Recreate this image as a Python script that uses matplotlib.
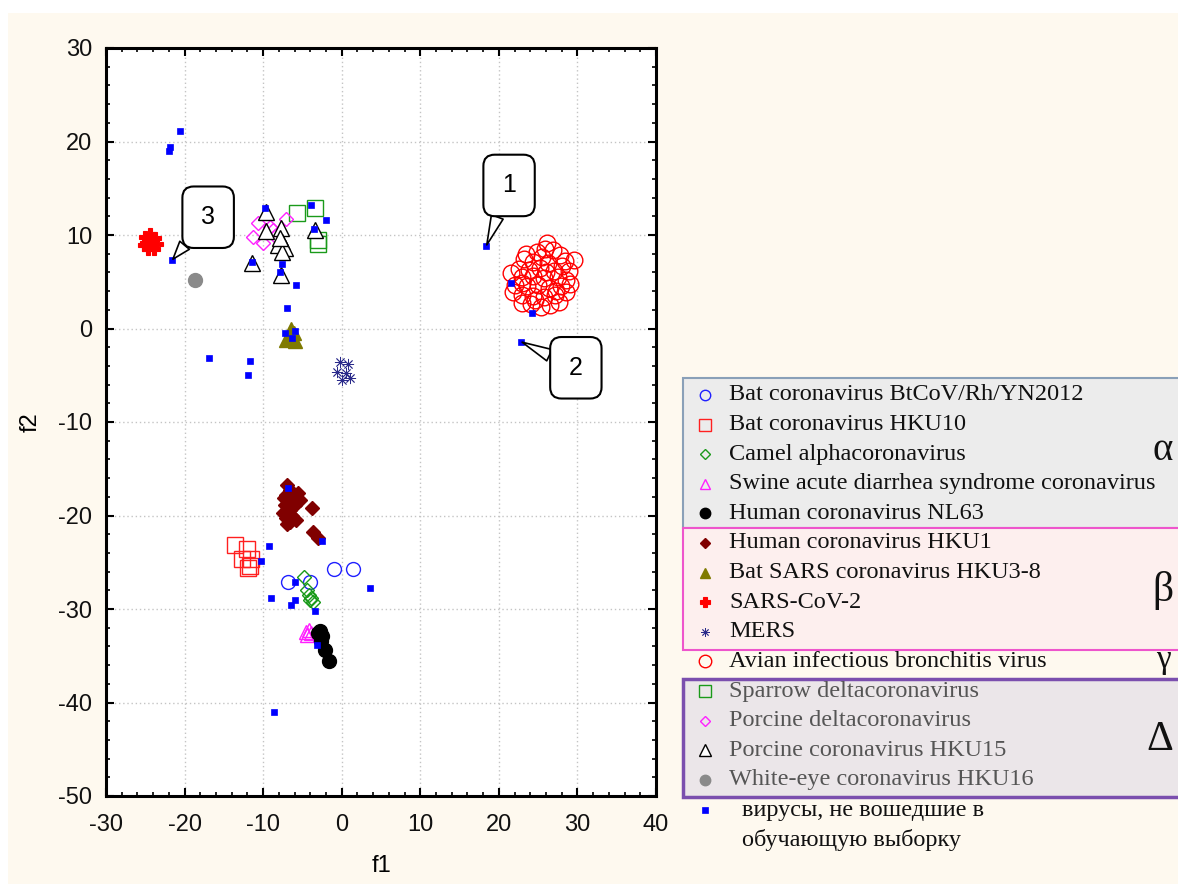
import numpy as np
import matplotlib
matplotlib.use("Agg")
import matplotlib.pyplot as plt
import matplotlib.ticker as ticker
from matplotlib.patches import Rectangle

plt.rcParams['axes.unicode_minus'] = False

# ---- data: f1 / f2 scores per group ----
bat_btcov_f1 = [-6.8, -4.0, -1.0, 1.4]
bat_btcov_f2 = [-27.1, -27.1, -25.7, -25.7]

bat_hku10_f1 = [-13.6, -12.1, -12.7, -11.6, -11.7, -11.9]
bat_hku10_f2 = [-23.2, -23.6, -24.7, -24.7, -25.4, -25.6]

camel_f1 = [-4.8, -4.2, -3.9, -3.7, -4.4, -4.0]
camel_f2 = [-26.6, -28.5, -28.8, -29.3, -28.0, -29.0]

sadscov_f1 = [-4.6, -4.2, -3.9, -4.4]
sadscov_f2 = [-32.5, -32.2, -32.6, -32.8]

nl63_f1 = [-3.0, -2.8, -2.5, -2.6, -2.1, -1.6]
nl63_f2 = [-32.6, -32.4, -32.9, -33.4, -34.4, -35.6]

hku1_f1 = [-7.0, -6.6, -7.1, -5.6, -5.3, -5.9, -3.8, -7.2, -6.6, -7.5,
           -7.1, -6.3, -6.6, -7.0, -5.8, -3.7, -3.0, -6.2, -7.4]
hku1_f2 = [-16.7, -17.3, -17.8, -17.6, -18.3, -18.9, -19.2, -18.9, -19.4, -19.7,
           -20.3, -20.0, -20.7, -20.9, -20.5, -21.8, -22.4, -18.3, -18.1]

hku3_f1 = [-6.4, -6.1, -7.1, -5.9, -6.7, -6.3]
hku3_f2 = [0.0, -0.5, -1.2, -1.3, -0.8, -1.1]

sars2_f1 = [-25.0, -24.4, -23.8, -24.9, -24.1, -23.5, -24.7, -23.9, -25.2, -24.3]
sars2_f2 = [9.8, 10.1, 9.7, 9.1, 9.0, 9.0, 8.5, 8.5, 8.9, 9.5]

mers_f1 = [-0.2, 0.8, -0.6, 0.6, 0.0, 1.0]
mers_f2 = [-3.6, -3.8, -4.6, -4.8, -5.5, -5.3]

ibv_f1 = [26.1, 24.8, 26.9, 25.5, 27.8, 29.5, 23.2, 24.3, 26.3, 28.4, 22.6, 23.8,
          25.2, 27.0, 28.9, 21.6, 22.9, 24.4, 25.8, 27.5, 28.6, 22.1, 23.6, 25.0,
          26.4, 27.9, 29.1, 21.8, 23.0, 24.4, 25.7, 27.1, 28.6, 22.9, 24.1, 25.3,
          26.5, 27.7, 23.5, 25.9, 24.6, 26.0, 27.3, 23.0, 28.0]
ibv_f2 = [9.1, 8.2, 8.4, 7.6, 7.9, 7.3, 7.4, 7.1, 7.0, 7.2, 6.4, 6.3,
          6.5, 6.2, 6.1, 5.9, 5.5, 5.6, 5.4, 5.5, 5.2, 4.7, 4.5, 4.6,
          4.3, 4.5, 4.8, 3.9, 3.6, 3.5, 3.4, 3.6, 3.9, 2.7, 2.6, 2.3,
          2.5, 2.8, 8.0, 8.5, 3.0, 6.0, 4.0, 4.9, 6.7]

sparrow_f1 = [-5.7, -3.4, -3.0, -3.0]
sparrow_f2 = [12.3, 12.9, 9.5, 9.0]

porcine_delta_f1 = [-10.6, -11.3, -10.0, -8.8, -7.1, -9.1, -8.5]
porcine_delta_f2 = [11.3, 9.8, 9.1, 10.5, 11.7, 10.9, 9.9]

hku15_f1 = [-9.6, -9.6, -7.7, -7.6, -8.1, -7.2, -7.6, -3.4, -11.4, -7.7, -7.8]
hku15_f2 = [12.5, 10.4, 10.8, 9.3, 8.9, 8.6, 8.2, 10.5, 7.0, 5.7, 9.7]

hku16_f1 = [-18.7]
hku16_f2 = [5.2]

# viruses left out of the training set
test_f1 = [-20.6, -21.9, -22.0, -21.6, -16.9, -11.7, -11.9, -11.4, -9.8, -7.6,
           -7.9, -5.8, -7.0, -7.2, -5.9, -6.3, -3.9, -2.0, -3.5, 18.4,
           22.8, 21.5, 24.2, -6.8, -2.5, -9.3, -10.3, -5.9, -9.0, -5.9,
           -6.5, -3.4, 3.6, -3.1, -8.6]
test_f2 = [21.1, 19.4, 19.0, 7.3, -3.2, -3.5, -5.0, 7.1, 12.9, 6.9,
           6.0, 4.7, 2.2, -0.5, -0.3, -1.0, 13.2, 11.6, 10.6, 8.8,
           -1.4, 4.9, 1.7, -17.1, -22.7, -23.3, -24.9, -27.1, -28.8, -29.0,
           -29.6, -30.2, -27.8, -33.9, -41.0]

callout_labels = ["1", "2", "3"]
callout_f1 = [18.4, 22.8, -21.6]
callout_f2 = [8.8, -1.4, 7.3]

# ---- marker styles ----
series = [
    ("Bat coronavirus BtCoV/Rh/YN2012", bat_btcov_f1, bat_btcov_f2,
     dict(marker='o', ms=10, mfc='none', mec='#2020ff', mew=1.0)),
    ("Bat coronavirus HKU10", bat_hku10_f1, bat_hku10_f2,
     dict(marker='s', ms=11, mfc='none', mec='#ff2020', mew=1.0)),
    ("Camel alphacoronavirus", camel_f1, camel_f2,
     dict(marker='D', ms=7, mfc='none', mec='#1a9a1a', mew=1.0)),
    ("Swine acute diarrhea syndrome coronavirus", sadscov_f1, sadscov_f2,
     dict(marker='^', ms=10, mfc='none', mec='#ff20ff', mew=1.0)),
    ("Human coronavirus NL63", nl63_f1, nl63_f2,
     dict(marker='o', ms=10, mfc='black', mec='black', mew=1.0)),
    ("Human coronavirus HKU1", hku1_f1, hku1_f2,
     dict(marker='D', ms=7, mfc='#800000', mec='#800000', mew=1.0)),
    ("Bat SARS coronavirus HKU3-8", hku3_f1, hku3_f2,
     dict(marker='^', ms=10, mfc='#7f7a00', mec='#7f7a00', mew=1.0)),
    ("SARS-CoV-2", sars2_f1, sars2_f2,
     dict(marker='P', ms=9, mfc='#ff0000', mec='#ff0000', mew=0.8)),
    ("MERS", mers_f1, mers_f2,
     dict(marker=(8, 2, 0), ms=8, mfc='none', mec='#2a2a8a', mew=0.6)),
    ("Avian infectious bronchitis virus", ibv_f1, ibv_f2,
     dict(marker='o', ms=12, mfc='none', mec='#ff0000', mew=1.0)),
    ("Sparrow deltacoronavirus", sparrow_f1, sparrow_f2,
     dict(marker='s', ms=11, mfc='none', mec='#1a9a1a', mew=1.0)),
    ("Porcine deltacoronavirus", porcine_delta_f1, porcine_delta_f2,
     dict(marker='D', ms=7, mfc='none', mec='#ff20ff', mew=1.0)),
    ("Porcine coronavirus HKU15", hku15_f1, hku15_f2,
     dict(marker='^', ms=11, mfc='white', mec='black', mew=1.0)),
    ("White-eye coronavirus HKU16", hku16_f1, hku16_f2,
     dict(marker='o', ms=10, mfc='#8a8a8a', mec='#8a8a8a', mew=1.0)),
]
test_style = dict(marker='s', ms=5, mfc='#0000ff', mec='#0000ff', mew=0.5)

W, H = 1178, 884
fig = plt.figure(figsize=(W / 100, H / 100), dpi=100, facecolor='white')

# full-figure overlay in pixel units for the background and the legend panel
lg = fig.add_axes([0, 0, 1, 1])
lg.set_xlim(0, W)
lg.set_ylim(H, 0)
lg.axis('off')
lg.set_zorder(0)
lg.add_patch(Rectangle((8, 13), W, H, fc='#fef9ef', ec='none'))

ax = fig.add_axes([106 / W, 1 - 796 / H, 550 / W, 748 / H])
ax.set_zorder(1)
ax.set_facecolor('white')

for label, xs, ys, st in series:
    ax.plot(xs, ys, ls='none', zorder=3, **st)
ax.plot(test_f1, test_f2, ls='none', zorder=4, **test_style)

ax.set_xlim(-30, 40)
ax.set_ylim(-50, 30)
ax.xaxis.set_major_locator(ticker.MultipleLocator(10))
ax.yaxis.set_major_locator(ticker.MultipleLocator(10))
ax.xaxis.set_minor_locator(ticker.MultipleLocator(2))
ax.yaxis.set_minor_locator(ticker.MultipleLocator(2))
ax.tick_params(which='both', direction='in', top=True, right=True, colors='black')
ax.tick_params(which='major', length=6, width=1.5, labelsize=17, labelcolor='#111111')
ax.tick_params(which='minor', length=3, width=1.2)
ax.tick_params(axis='x', pad=13)
ax.tick_params(axis='y', pad=10)
for lab in ax.get_xticklabels() + ax.get_yticklabels():
    lab.set_fontfamily('Liberation Sans')
for sp in ax.spines.values():
    sp.set_linewidth(2.2)
ax.grid(True, which='major', color='#c4c4c4', ls=(0, (1, 2)), lw=1)
ax.set_axisbelow(True)
ax.set_xlabel('f1', fontsize=17, family='Liberation Sans', labelpad=14)
ax.set_ylabel('f2', fontsize=17, family='Liberation Sans', labelpad=12)

# numbered callouts pointing at individual test viruses
box_pos = [(21.3, 15.3), (29.8, -4.2), (-17.0, 11.9)]
for lab, x, y, (bx, by) in zip(callout_labels, callout_f1, callout_f2, box_pos):
    ax.annotate(lab, xy=(x, y), xytext=(bx, by), fontsize=18,
                family='Liberation Sans', ha='center', va='center', zorder=6,
                bbox=dict(boxstyle='round,pad=0.75,rounding_size=0.45',
                          fc='white', ec='black', lw=1.5),
                arrowprops=dict(arrowstyle='wedge,tail_width=0.5,shrink_factor=0.5',
                                fc='white', ec='black', lw=1.2,
                                shrinkA=0, shrinkB=1))

# legend panel, grouped by genus
lg.add_patch(Rectangle((683, 378), 520, 150, fc='#ececec', ec='#8aa0b8', lw=1.5))
lg.add_patch(Rectangle((683, 528), 520, 122, fc='#fdefee', ec='#ee55cc', lw=1.5))
lg.add_patch(Rectangle((683, 679), 520, 118, fc='#ebe6e9', ec='#7b4fae', lw=2.5))

row_y0, row_dy = 395, 29.6
for i, (label, xs, ys, st) in enumerate(series):
    y = row_y0 + i * row_dy
    small = dict(st)
    small['ms'] = st['ms'] * 0.75
    lg.plot([705], [y], ls='none', clip_on=False, **small)
    color = '#555555' if i >= 10 else '#111111'
    lg.text(729, y, label, fontsize=17.5, family='Liberation Serif',
            color=color, ha='left', va='center')

y = row_y0 + len(series) * row_dy
lg.plot([705], [y + 1], ls='none', **test_style)
lg.text(742, y + 1, 'вирусы, не вошедшие в', fontsize=17.5,
        family='Liberation Serif', color='#111111', ha='left', va='center')
lg.text(742, y + 31, 'обучающую выборку', fontsize=17.5,
        family='Liberation Serif', color='#111111', ha='left', va='center')

for sym, gx, gy, fs in [('α', 1163, 450, 28), ('β', 1163, 590, 30),
                        ('γ', 1163, 660, 24), ('Δ', 1160, 740, 30)]:
    lg.text(gx, gy, sym, fontsize=fs, family='Liberation Serif',
            color='#111111', ha='center', va='center')

fig.savefig('out.png', dpi=100, facecolor='white')
